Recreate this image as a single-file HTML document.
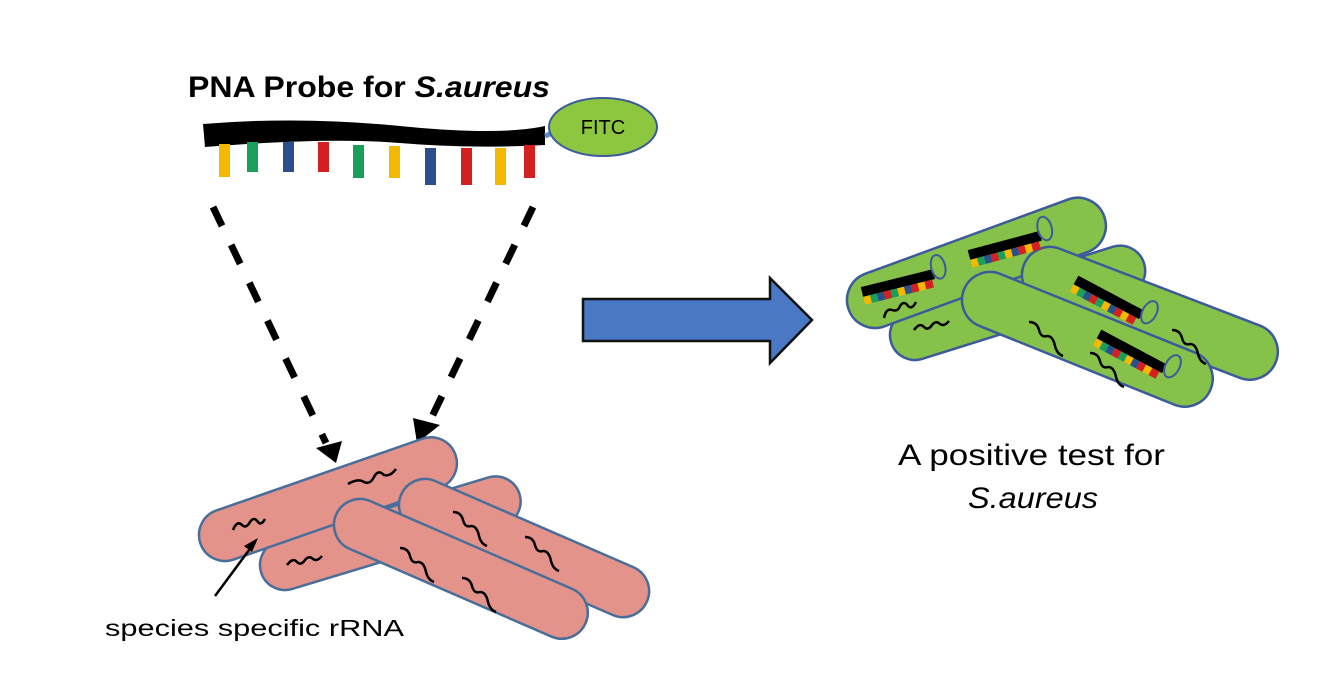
<!DOCTYPE html>
<html><head><meta charset="utf-8"><style>
html,body{margin:0;padding:0;background:#fff;}
svg{display:block}
text{font-family:"Liberation Sans",sans-serif}
</style></head><body>
<svg width="1334" height="699" viewBox="0 0 1334 699" xmlns="http://www.w3.org/2000/svg">
<defs>
<g id="strip">
<rect x="0" y="-5" width="74" height="10" fill="#000"/>
<rect x="0" y="5" width="7" height="8" fill="#f5b800"/>
<rect x="7" y="5" width="7" height="8" fill="#1a9f5a"/>
<rect x="14" y="5" width="7" height="8" fill="#2a4f8a"/>
<rect x="21" y="5" width="7" height="8" fill="#d42020"/>
<rect x="28" y="5" width="7" height="8" fill="#1a9f5a"/>
<rect x="35" y="5" width="7" height="8" fill="#f5b800"/>
<rect x="42" y="5" width="7" height="8" fill="#2a4f8a"/>
<rect x="49" y="5" width="7" height="8" fill="#d42020"/>
<rect x="56" y="5" width="7" height="8" fill="#f5b800"/>
<rect x="63" y="5" width="8" height="8" fill="#d42020"/>
<ellipse cx="80" cy="-6" rx="7" ry="12" fill="none" stroke="#3d5a9a" stroke-width="2"/>
</g>
</defs>

<text x="188" y="97" font-size="30" font-weight="bold" textLength="362" lengthAdjust="spacingAndGlyphs">PNA Probe for <tspan font-style="italic">S.aureus</tspan></text>

<!-- probe -->
<path d="M203 124 Q300 116 400 126 T545 126 L545 145 Q470 149 400 143 T205 147 Z" fill="#000"/>
<line x1="545" y1="136" x2="555" y2="132" stroke="#5b8fd0" stroke-width="5"/>
<ellipse cx="603" cy="127" rx="54" ry="29" fill="#8dc63f" stroke="#3d5a9a" stroke-width="2"/>
<text x="603" y="134" font-size="20" text-anchor="middle">FITC</text>
<rect x="219" y="144" width="11" height="33" fill="#f5b800"/>
<rect x="247" y="142" width="11" height="30" fill="#1a9f5a"/>
<rect x="283" y="142" width="11" height="30" fill="#2a4f8a"/>
<rect x="318" y="142" width="11" height="30" fill="#d42020"/>
<rect x="353" y="145" width="11" height="33" fill="#1a9f5a"/>
<rect x="389" y="146" width="11" height="32" fill="#f5b800"/>
<rect x="425" y="148" width="11" height="37" fill="#2a4f8a"/>
<rect x="461" y="148" width="11" height="37" fill="#d42020"/>
<rect x="495" y="148" width="11" height="37" fill="#f5b800"/>
<rect x="524" y="145" width="11" height="33" fill="#d42020"/>

<!-- dashed -->
<line x1="213" y1="207" x2="326" y2="443" stroke="#000" stroke-width="7" stroke-dasharray="21 21"/>
<polygon points="336,463 316,448 342,441" fill="#000"/>
<line x1="533" y1="207" x2="428" y2="425" stroke="#000" stroke-width="7" stroke-dasharray="21 21"/>
<polygon points="417,443 413,418 440,425" fill="#000"/>

<!-- pink bacteria -->
<g fill="#e3938a" stroke="#4a6e9a" stroke-width="2.5">
<rect transform="translate(285,565) rotate(-16.8)" x="-25" y="-25" width="270" height="50" rx="25"/>
<rect transform="translate(225,535) rotate(-19.2)" x="-26" y="-26" width="270" height="52" rx="26"/>
<rect transform="translate(425,505) rotate(23.5)" x="-26" y="-26" width="268" height="52" rx="26"/>
<rect transform="translate(360,525) rotate(23.5)" x="-26" y="-26" width="272" height="52" rx="26"/>
</g>
<g fill="none" stroke="#000" stroke-width="2.5">
<path d="M233 530 q4-10 9-5 q4 4 8-3 q4-6 8 0 q3 4 7-3"/>
<path d="M348 484 q10-6 16-2 q6 3 10-5 q4-8 10-2 q6 2 12-6"/>
<path d="M287 565 q6-8 10-3 q4 4 8-2 q4-5 8-1 q4 3 9-3"/>
<path d="M453 512 q8 0 10 8 q2 8 8 6 q6 0 8 10 q2 8 8 10"/>
<path d="M525 537 q8 0 10 8 q2 8 8 6 q6 0 8 10 q2 8 8 10"/>
<path d="M400 548 q8 0 10 8 q2 8 8 6 q6 0 8 10 q2 8 8 10"/>
<path d="M462 578 q8 0 10 8 q2 8 8 6 q6 0 8 10 q2 8 8 10"/>
</g>
<line x1="215" y1="596" x2="255" y2="542" stroke="#000" stroke-width="2.5"/>
<polygon points="258,538 252,552 244,546" fill="#000"/>
<text x="105" y="636" font-size="23" textLength="299" lengthAdjust="spacingAndGlyphs">species specific rRNA</text>

<!-- blue arrow -->
<polygon points="583,299 770,299 770,278 812,320 770,363 770,341 583,341" fill="#4a78c4" stroke="#111" stroke-width="2.5"/>

<!-- green bacteria -->
<g fill="#86c14a" stroke="#3d5a9a" stroke-width="2.5">
<rect transform="translate(915,335) rotate(-17.4)" x="-25" y="-25" width="265" height="50" rx="25"/>
<rect transform="translate(875,300) rotate(-20.1)" x="-28" y="-28" width="272" height="56" rx="28"/>
<rect transform="translate(1050,275) rotate(21)" x="-28" y="-28" width="270" height="56" rx="28"/>
<rect transform="translate(990,300) rotate(22)" x="-28" y="-28" width="266" height="56" rx="28"/>
</g>
<use href="#strip" transform="translate(862,292) rotate(-14)"/>
<use href="#strip" transform="translate(969,255) rotate(-15)"/>
<use href="#strip" transform="translate(1076,280) rotate(28)"/>
<use href="#strip" transform="translate(1099,334) rotate(28)"/>
<g fill="none" stroke="#000" stroke-width="2.5">
<path d="M884 318 q2-10 8-8 q6 2 8-4 q4-6 8 0 q4 4 8-4"/>
<path d="M914 330 q6-8 10-3 q4 4 8-2 q4-5 8-1 q4 3 9-3"/>
<path d="M1029 322 q8 0 10 8 q2 8 8 6 q6 0 8 10 q2 8 8 10"/>
<path d="M1172 330 q8 0 10 8 q2 8 8 6 q6 0 8 10 q2 8 8 10"/>
<path d="M1090 353 q8 0 10 8 q2 8 8 6 q6 0 8 10 q2 8 8 10"/>
</g>

<text x="898" y="465" font-size="30" textLength="267" lengthAdjust="spacingAndGlyphs">A positive test for</text>
<text x="968" y="508" font-size="30" font-style="italic" textLength="130" lengthAdjust="spacingAndGlyphs">S.aureus</text>
</svg>
</body></html>
